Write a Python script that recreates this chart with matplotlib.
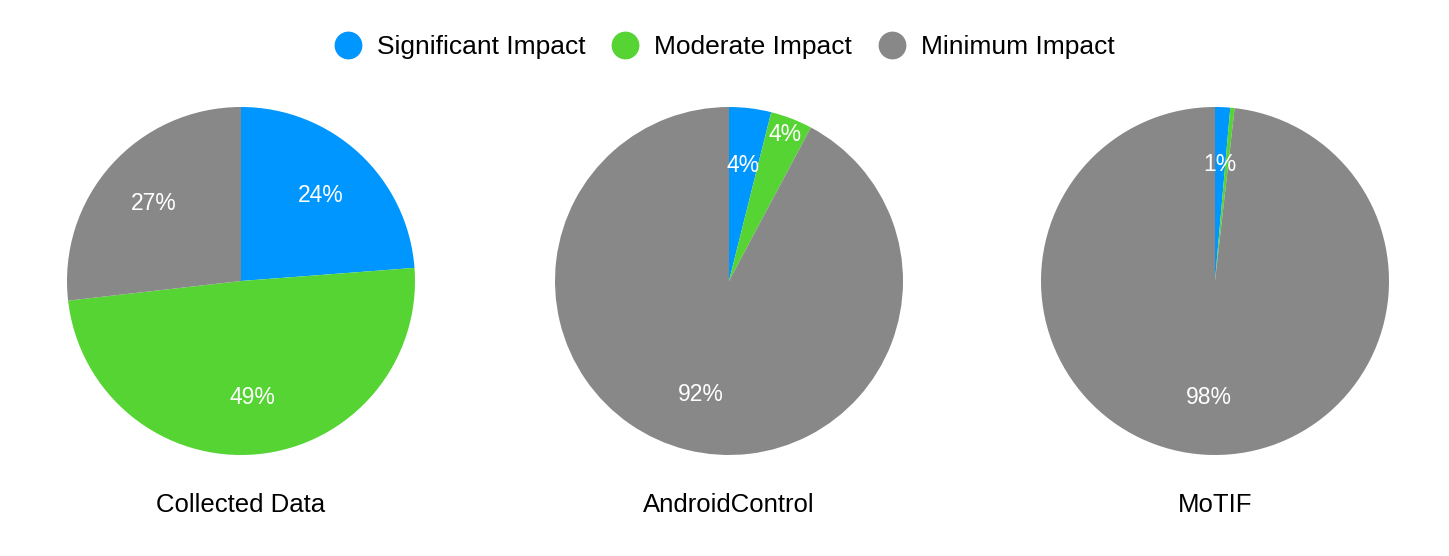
import numpy as np
import matplotlib.pyplot as plt
from matplotlib.lines import Line2D

plt.rcParams['font.family'] = ['Liberation Sans', 'DejaVu Sans']

categories = ["Significant Impact", "Moderate Impact", "Minimum Impact"]
datasets = ["Collected Data", "AndroidControl", "MoTIF"]
collected = [23.8, 49.4, 26.8]
android_control = [3.9, 3.9, 92.2]
motif = [1.4, 0.4, 98.2]
colors = ["#0096FF", "#55D434", "#888888"]

W, H = 1449, 556
fig = plt.figure(figsize=(W / 100, H / 100), dpi=100)

centers_x = [241, 729, 1215]
cy = 281
r = 174


def fmt(pct):
    # hide tiny slices
    return f"{pct:.0f}%" if pct >= 1 else ""


for name, vals, cx in zip(datasets, [collected, android_control, motif], centers_x):
    ax = fig.add_axes([(cx - r) / W, (H - cy - r) / H, 2 * r / W, 2 * r / H])
    wedges, texts, autotexts = ax.pie(vals, colors=colors, startangle=90, counterclock=False,
                                      autopct=fmt, pctdistance=0.67, radius=1,
                                      wedgeprops=dict(linewidth=0))
    for t in autotexts:
        t.set_color("white")
        t.set_fontsize(16.5)
    # push the small neighbouring label outward so the two don't overlap
    if name == "AndroidControl":
        w = wedges[1]
        mid = np.deg2rad((w.theta1 + w.theta2) / 2)
        autotexts[1].set_position((0.9 * np.cos(mid), 0.9 * np.sin(mid)))
    ax.set_xlim(-1, 1)
    ax.set_ylim(-1, 1)
    ax.set_aspect("equal")
    ax.axis("off")
    fig.text(cx / W, 1 - 505 / H, name, ha="center", va="center", fontsize=18.5)

handles = [Line2D([], [], marker="o", linestyle="", markersize=19, markerfacecolor=c,
                  markeredgecolor=c) for c in colors]
fig.legend(handles, categories, loc="center", bbox_to_anchor=(0.5, 1 - 47 / H), ncol=3,
           frameon=False, fontsize=19, handlelength=1.0, handletextpad=0.6,
           columnspacing=1.0)

fig.savefig("out.png", dpi=100)
